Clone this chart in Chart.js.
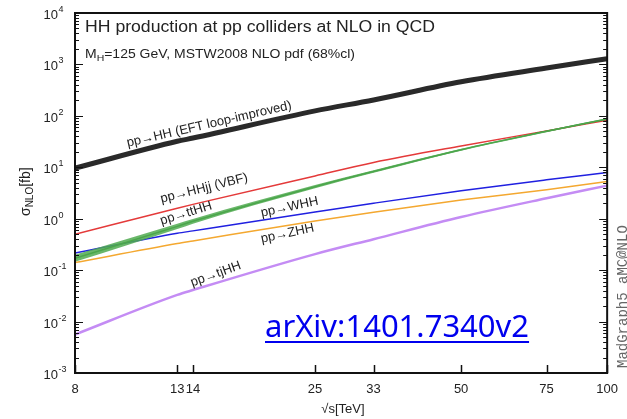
<!DOCTYPE html>
<html><head><meta charset="utf-8">
<script src="https://cdn.jsdelivr.net/npm/chart.js@4.4.1/dist/chart.umd.min.js"></script>
<style>html,body{margin:0;padding:0;background:#fff}canvas{display:block}</style>
</head><body>
<canvas id="c" width="627" height="419"></canvas>
<script>
// ---- data ----
const energies = [8, 13, 14, 25, 33, 50, 75, 100];          // sqrt(s) in TeV
const xTickValues = [8, 13, 14, 25, 33, 50, 75, 100];
const yTickExponents = [-3, -2, -1, 0, 1, 2, 3, 4];
const sigmaHH   = [9.6, 32, 37, 125, 204, 460, 850, 1290];
const sigmaVBF  = [0.5, 1.6, 1.9, 6.8, 12.4, 26, 51, 82];
const sigmaTTHH = [0.17, 0.71, 0.89, 4.2, 8.3, 22, 50, 87];
const ttHHLow   = [0.145, 0.63, 0.80, 3.9, 7.8, 21, 48, 84];
const ttHHHigh  = [0.20, 0.80, 0.99, 4.5, 8.8, 23, 52, 90];
const sigmaWHH  = [0.215, 0.52, 0.58, 1.35, 2.0, 3.5, 5.7, 7.9];
const sigmaZHH  = [0.14, 0.33, 0.37, 0.9, 1.33, 2.3, 3.66, 5.3];
const sigmaTJHH = [0.0056, 0.033, 0.041, 0.205, 0.40, 1.08, 2.5, 4.4];

// curve labels: text, anchor (sqrt s, sigma), rotation in degrees
const curveLabels = [
  ['pp\u2192HH (EFT loop-improved)', 10.27, 25, -13],
  ['pp\u2192HHjj (VBF)', 12.06, 2.05, -14],
  ['pp\u2192ttHH', 12.06, 0.765, -17],
  ['pp\u2192WHH', 19.4, 1.09, -12],
  ['pp\u2192ZHH', 19.4, 0.342, -12],
  ['pp\u2192tjHH', 13.96, 0.0479, -20]
];

const pts = arr => arr.map((v, i) => ({x: energies[i], y: v}));
const FONT = '"Liberation Sans", Arial, sans-serif';

function line(data, color, width) {
  return {data: pts(data), borderColor: color, borderWidth: width, pointRadius: 0,
          fill: false, cubicInterpolationMode: 'monotone'};
}

// draw text stretched horizontally to a given width
function stretchedText(ctx, parts, x, y, targetW) {
  let w = 0;
  parts.forEach(p => { ctx.font = p.font; w += ctx.measureText(p.t).width; });
  const k = targetW / w;
  ctx.save();
  ctx.translate(x, y);
  ctx.scale(k, 1);
  let cx = 0;
  parts.forEach(p => { ctx.font = p.font; ctx.fillText(p.t, cx, p.dy || 0); cx += ctx.measureText(p.t).width; });
  ctx.restore();
}

const decor = {
  id: 'decor',
  afterDraw(chart) {
    const ctx = chart.ctx, a = chart.chartArea;
    const xs = chart.scales.x, ys = chart.scales.y;
    ctx.save();
    // frame
    ctx.strokeStyle = '#111'; ctx.lineWidth = 2;
    ctx.strokeRect(a.left, a.top, a.right - a.left, a.bottom - a.top);
    // x ticks (inward)
    ctx.lineWidth = 1.5;
    ctx.beginPath();
    xTickValues.forEach(v => {
      const px = Math.round(xs.getPixelForValue(v)) + 0.5;
      ctx.moveTo(px, a.bottom); ctx.lineTo(px, a.bottom - 8);
    });
    ctx.stroke();
    // y ticks major + minor, both sides
    ctx.lineWidth = 1;
    ctx.beginPath();
    yTickExponents.forEach(e => {
      for (let m = 1; m <= 9; m++) {
        if (e === 4 && m > 1) break;
        const py = Math.round(ys.getPixelForValue(m * Math.pow(10, e))) + 0.5;
        const len = m === 1 ? 8 : 4;
        ctx.moveTo(a.left, py); ctx.lineTo(a.left + len, py);
        ctx.moveTo(a.right, py); ctx.lineTo(a.right - len, py);
      }
    });
    ctx.stroke();
    // y tick labels 10^n
    ctx.fillStyle = '#222';
    ctx.textBaseline = 'alphabetic';
    yTickExponents.forEach(e => {
      const py = ys.getPixelForValue(Math.pow(10, e));
      ctx.font = '13px ' + FONT;
      ctx.textAlign = 'right';
      ctx.fillText('10', 58, py + 6);
      ctx.font = '9px ' + FONT;
      ctx.textAlign = 'left';
      ctx.fillText(String(e), 58.5, py - 1);
    });
    // title & subtitle
    ctx.textAlign = 'left';
    stretchedText(ctx, [{t: 'HH production at pp colliders at NLO in QCD', font: '16px ' + FONT}], 85, 32, 350);
    stretchedText(ctx, [
      {t: 'M', font: '12px ' + FONT},
      {t: 'H', font: '9px ' + FONT, dy: 3},
      {t: '=125 GeV, MSTW2008 NLO pdf (68%cl)', font: '12px ' + FONT}
    ], 85, 58, 270);
    // curve labels
    ctx.font = '13px ' + FONT;
    curveLabels.forEach(([t, xv, yv, ang]) => {
      ctx.save();
      ctx.translate(xs.getPixelForValue(xv), ys.getPixelForValue(yv));
      ctx.rotate(ang * Math.PI / 180);
      ctx.fillText(t, 0, 0);
      ctx.restore();
    });
    // axis titles
    ctx.textAlign = 'center';
    ctx.font = '13px ' + FONT;
    ctx.fillText('\u221As[TeV]', 343, 413);
    ctx.save();
    ctx.translate(30, 216);
    ctx.rotate(-Math.PI / 2);
    ctx.textAlign = 'left';
    let yx = 0;
    ctx.font = '14px ' + FONT;
    ctx.fillText('\u03C3', yx, 0); yx += ctx.measureText('\u03C3').width;
    ctx.font = '10px ' + FONT;
    ctx.fillText('NLO', yx, 3); yx += ctx.measureText('NLO').width;
    ctx.font = '14px ' + FONT;
    ctx.fillText('[fb]', yx, 0);
    ctx.restore();
    // vertical MadGraph text
    ctx.save();
    ctx.translate(627, 368);
    ctx.rotate(-Math.PI / 2);
    ctx.fillStyle = '#666';
    ctx.font = '14px "Liberation Mono", monospace';
    ctx.textAlign = 'left';
    ctx.fillText('MadGraph5 aMC@NLO', 0, 0);
    ctx.restore();
    // arXiv link
    ctx.fillStyle = '#0000ee';
    ctx.font = '31px "Noto Sans", sans-serif';
    ctx.textAlign = 'left';
    const arx = 'arXiv:1401.7340v2';
    ctx.fillText(arx, 265, 337);
    const w = ctx.measureText(arx).width;
    ctx.fillRect(265, 341, w, 2);
    ctx.restore();
  }
};

new Chart(document.getElementById('c'), {
  type: 'line',
  data: {
    datasets: [
      {data: pts(ttHHLow), borderWidth: 0, pointRadius: 0, fill: false, borderColor: 'rgba(0,0,0,0)', cubicInterpolationMode: 'monotone'},
      {data: pts(ttHHHigh), borderWidth: 0, pointRadius: 0, fill: '-1', borderColor: 'rgba(0,0,0,0)', backgroundColor: 'rgba(80,170,80,0.85)', cubicInterpolationMode: 'monotone'},
      line(sigmaTTHH, '#2f8f2f', 1.5),
      line(sigmaVBF, '#e43a3a', 1.5),
      line(sigmaWHH, '#2020e0', 1.5),
      line(sigmaZHH, '#f4a830', 1.5),
      line(sigmaTJHH, '#c48cf4', 2.5),
      line(sigmaHH, '#2a2a2a', 5)
    ]
  },
  options: {
    responsive: false,
    animation: false,
    devicePixelRatio: 1,
    layout: {padding: {left: 0, right: 17, top: 13, bottom: 0}},
    plugins: {legend: {display: false}, tooltip: {enabled: false}, title: {display: false}},
    scales: {
      x: {
        type: 'logarithmic', min: 8, max: 100,
        grid: {display: false, drawTicks: false},
        border: {display: false},
        afterBuildTicks: s => { s.ticks = xTickValues.map(v => ({value: v})); },
        afterFit: s => { s.height = 46; },
        ticks: {autoSkip: false, maxRotation: 0, padding: 9, color: '#222',
                font: {family: FONT, size: 13}, callback: v => String(v)}
      },
      y: {
        type: 'logarithmic', min: 1e-3, max: 1e4,
        grid: {display: false, drawTicks: false},
        border: {display: false},
        ticks: {display: false},
        afterFit: s => { s.width = 75; }
      }
    }
  },
  plugins: [decor]
});
</script>
</body></html>
